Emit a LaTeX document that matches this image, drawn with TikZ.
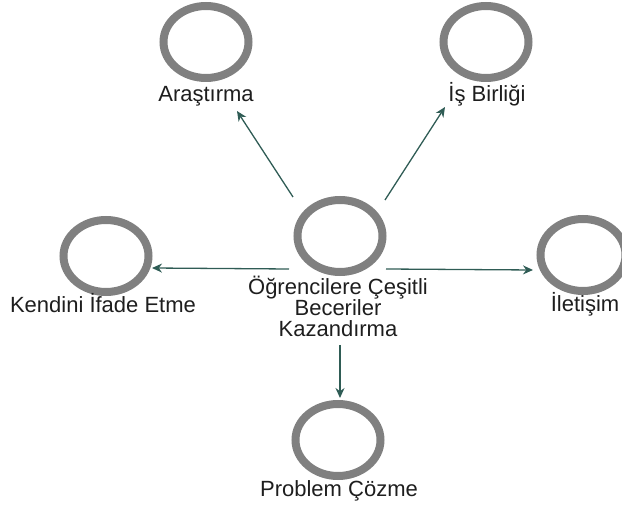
\documentclass[tikz,border=0pt]{standalone}
\usepackage{fontspec}
\setmainfont{Liberation Sans}
\usetikzlibrary{arrows.meta,shapes.geometric}
\definecolor{ringgray}{HTML}{808080}
\definecolor{linkteal}{HTML}{2F5C55}
\definecolor{labelink}{HTML}{1E1E1E}
\begin{document}
\begin{tikzpicture}[x=1pt,y=-1pt,
  ring/.style={draw=ringgray, line width=8pt, shape=ellipse, minimum width=85pt, minimum height=72pt, inner sep=0pt},
  caption/.style={anchor=base, text=labelink, font=\fontsize{22}{21}\selectfont, inner sep=0pt, align=center},
  link/.style={draw=linkteal, line width=1.3pt, -{Stealth[length=10pt,width=9pt]}}]
\useasboundingbox (0,0) rectangle (622,510);
\begin{scope}
\clip (0,0) rectangle (622,510);
% rings
\node[ring] (hub) at (340,236) {};
\node[ring] (ara) at (206,42) {};
\node[ring] (isb) at (486,42) {};
\node[ring] (ken) at (106,256) {};
\node[ring] (ile) at (583,255) {};
\node[ring] (pro) at (338,440) {};
\end{scope}
% captions (multi-line text sits on the baseline of its last line)
\node[caption] (araT) at (206,102) {Araştırma};
\node[caption] (isbT) at (487,102) {İş Birliği};
\node[caption] (hubT) at (338,337) {Öğrencilere Çeşitli\\Beceriler\\Kazandırma};
\node[caption] (kenT) at (103,313) {Kendini İfade Etme};
\node[caption] (ileT) at (585,312) {İletişim};
\node[caption] (proT) at (339,497) {Problem Çözme};
% connectors from the hub
\draw[link] ([shift={(-47,-39)}]hub.center) -- ([shift={(31,69)}]ara.center);
\draw[link] ([shift={(45,-36)}]hub.center) -- ([shift={(-41,65)}]isb.center);
\draw[link] ([shift={(-51,33)}]hub.center) -- ([shift={(46,12)}]ken.center);
\draw[link] ([shift={(46,33)}]hub.center) -- ([shift={(-50,15)}]ile.center);
\draw[link] ([shift={(0,109)}]hub.center) -- ([shift={(2,-42)}]pro.center);
\end{tikzpicture}
\end{document}
